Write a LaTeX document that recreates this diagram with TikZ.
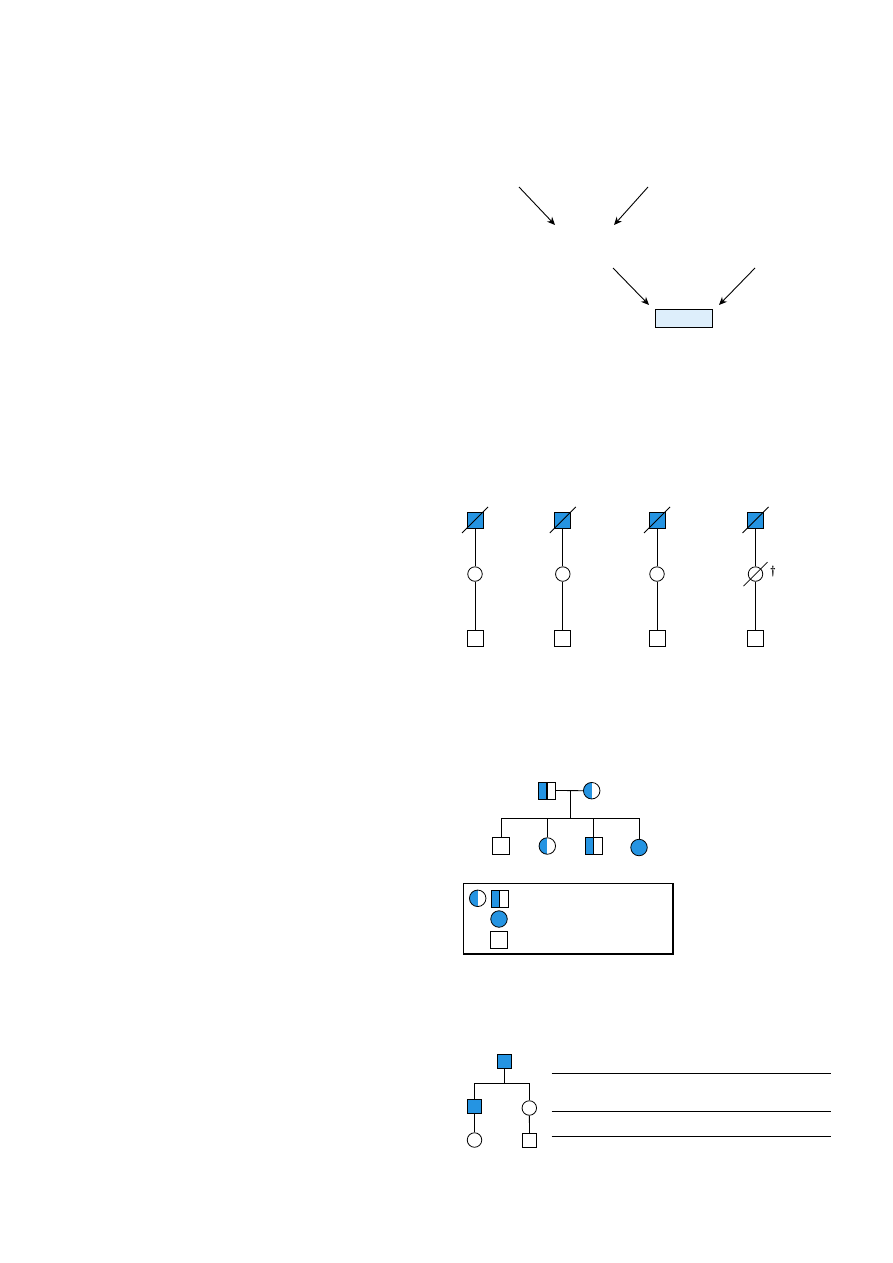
\documentclass[tikz,border=0pt]{standalone}
\usepackage{tikz}
\usetikzlibrary{positioning,arrows.meta}

\definecolor{pedblue}{HTML}{2594E2}
\definecolor{boxblue}{HTML}{DDEEFB}

\newcommand{\deceased}[1]{\draw ([shift={(-13pt,-13pt)}]#1.center) -- ([shift={(13pt,13pt)}]#1.center);}

\begin{document}
\begin{tikzpicture}[
  x=1pt, y=-1pt,
  line width=0.8pt,
  male/.style={draw, rectangle, inner sep=0pt, minimum size=16pt},
  female/.style={draw, circle, inner sep=0pt, minimum size=14.5pt},
  aff/.style={fill=pedblue},
  halfcirc/.style={female, minimum size=16.5pt, path picture={\fill[pedblue] (path picture bounding box.north west) rectangle (path picture bounding box.south);}},
  halfsq/.style={male, minimum size=17pt, path picture={\fill[pedblue] (path picture bounding box.north west) rectangle (path picture bounding box.south);
    \draw[line width=1.2pt] (path picture bounding box.north) -- (path picture bounding box.south);}},
  arr/.style={-{Stealth[length=8pt, width=7pt]}, line width=0.9pt}
]
\useasboundingbox (0,0) rectangle (893,1263);

% arrows and box
\coordinate (a1s) at (519,187);
\coordinate (a1e) at (555,225);
\coordinate (a2s) at (648,187);
\coordinate (a2e) at (614,225);
\coordinate (a3s) at (613,268);
\coordinate (a3e) at (649,305);
\coordinate (a4s) at (755,268);
\coordinate (a4e) at (719,305);
\node[draw, fill=boxblue, minimum width=57pt, minimum height=18pt, inner sep=0pt] (box) at (684,318.5) {};
\draw[arr] (a1s) -- (a1e);
\draw[arr] (a2s) -- (a2e);
\draw[arr] (a3s) -- (a3e);
\draw[arr] (a4s) -- (a4e);

% four lines of descent
\node[male, aff] (p1a) at (475,520) {};
\node[female, below=38pt of p1a] (p1b) {};
\node[male, below=48pt of p1b] (p1c) {};
\draw (p1a) -- (p1b) -- (p1c);
\deceased{p1a}

\node[male, aff] (p2a) at (562.8,520) {};
\node[female, below=38pt of p2a] (p2b) {};
\node[male, below=48pt of p2b] (p2c) {};
\draw (p2a) -- (p2b) -- (p2c);
\deceased{p2a}

\node[male, aff] (p3a) at (657,520) {};
\node[female, below=38pt of p3a] (p3b) {};
\node[male, below=48pt of p3b] (p3c) {};
\draw (p3a) -- (p3b) -- (p3c);
\deceased{p3a}

\node[male, aff] (p4a) at (755.5,520) {};
\node[female, below=38pt of p4a] (p4b) {};
\node[male, below=48pt of p4b] (p4c) {};
\draw (p4a) -- (p4b) -- (p4c);
\deceased{p4a}
\draw ([shift={(-12pt,-12pt)}]p4b.center) -- ([shift={(12pt,12pt)}]p4b.center);
\node[font=\large\bfseries, inner sep=0pt] (dag) at (773,571.5) {\textdagger};

% family
\node[halfsq] (fa) at (547,790.5) {};
\node[halfcirc] (mo) at (591.7,790.7) {};
\coordinate (mid) at (570,790.7);
\coordinate (sib) at (570,818.3);
\node[male, minimum size=17pt] (c1) at (501.3,845.8) {};
\node[halfcirc] (c2) at (547.3,846) {};
\node[halfsq] (c3) at (593.7,845.8) {};
\node[female, aff, minimum size=16.5pt] (c4) at (639,847.5) {};
\draw (fa) -- (mo);
\draw (mid) -- (sib);
\draw (c1.north |- sib) -- (c4.north |- sib);
\draw (c1.north |- sib) -- (c1.north);
\draw (c2.north |- sib) -- (c2.north);
\draw (c3.north |- sib) -- (c3.north);
\draw (c4.north |- sib) -- (c4.north);

% key
\node[draw, minimum width=209pt, minimum height=70pt, inner sep=0pt] (legend) at (567.5,918.5) {};
\draw[line width=1.8pt] ([xshift=0.5pt]legend.north east) -- ([shift={(0.5pt,-0.5pt)}]legend.south east) -- ([yshift=-0.5pt]legend.south west);
\node[halfcirc] (k1) at (477.7,898.3) {};
\node[halfsq] (k2) at (499.7,898.8) {};
\node[female, aff, minimum size=16.5pt] (k3) at (499,919) {};
\node[male, minimum size=16.5pt] (k4) at (498.8,940) {};

% small tree
\node[male, aff, minimum size=13.5pt] (t1) at (504.5,1061.5) {};
\coordinate (tj) at (504.5,1083.3);
\node[male, aff, minimum size=13.5pt] (t2) at (474.5,1106.3) {};
\node[female, minimum size=14.5pt] (t3) at (529.3,1108) {};
\node[female, minimum size=14.5pt] (t4) at (474.5,1140) {};
\node[male, minimum size=13.5pt] (t5) at (529.5,1140.3) {};
\draw (t1) -- (tj);
\draw (t2.north) -- (t2.north |- tj) -- (t3.north |- tj) -- (t3.north);
\draw (t2) -- (t4);
\draw (t3) -- (t5);
\draw (551.7,1073.3) -- (830.7,1073.3);
\draw (551.7,1111.3) -- (830.7,1111.3);
\draw (551.7,1136.3) -- (830.7,1136.3);
\end{tikzpicture}
\end{document}
